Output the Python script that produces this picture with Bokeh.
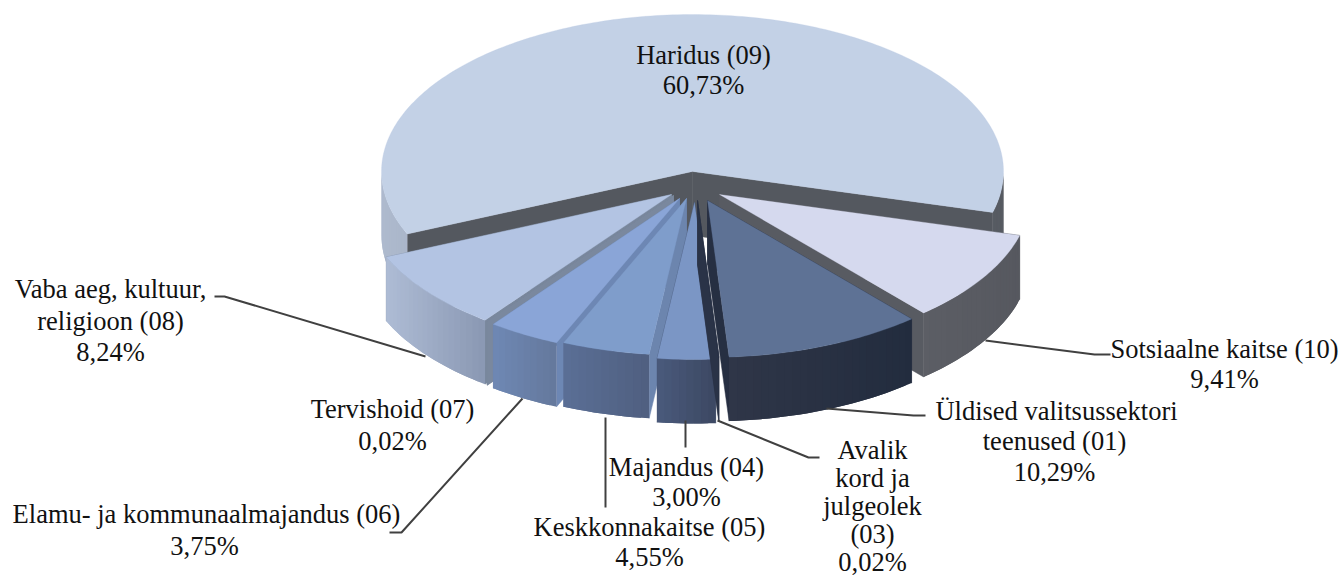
from math import cos, sin, radians
from bokeh.plotting import figure
from bokeh.models import Range1d
from bokeh.core.properties import value
from bokeh.embed import file_html
from bokeh.resources import INLINE

# data (clockwise, starting at the right edge of the large slice's neighbour)
categories = ["Sotsiaalne kaitse (10)", "Üldised valitsussektori teenused (01)",
              "Avalik kord ja julgeolek (03)", "Majandus (04)", "Keskkonnakaitse (05)",
              "Elamu- ja kommunaalmajandus (06)", "Tervishoid (07)",
              "Vaba aeg, kultuur, religioon (08)", "Haridus (09)"]
shares = [9.41, 10.29, 0.02, 3.00, 4.55, 3.75, 0.02, 8.24, 60.73]

# layout
START = 15.1
RX, RY, DEPTH = 311, 157, 64
apex = [(719, 194), (707, 200), (697, 200), (694, 202), (686, 198),
        (679, 198), (673, 195), (671, 194), (692, 171)]
top_col = ["#D5D9EE", "#5E7295", "#2A3347", "#7B96C5", "#7F9DCB",
           "#8AA5D7", "#7A889E", "#B3C4E3", "#C3D1E6"]
face_col = ["#585B62", "#262F42", "#2A3347", "#3E4C69", "#6C85AE",
            "#6D87B4", "#7A889E", "#7A889E", "#54585F"]
wall_l = ["#5C5E65", "#2F3648", "#2A3347", "#4A5A7C", "#5A6F96",
          "#6F88B4", "#7A889E", "#AEBCD5", "#AEBACE"]
wall_r = ["#56585F", "#222C3E", "#2A3347", "#3C4862", "#4F5F80",
          "#64789C", "#7A889E", "#8A98B3", "#565A61"]
draw_order = [8, 0, 7, 6, 5, 4, 3, 2, 1]

label_lines = [
    ("Haridus (09)", 703, 54), ("60,73%", 703, 84),
    ("Sotsiaalne kaitse (10)", 1224, 348), ("9,41%", 1224, 378),
    ("Üldised valitsussektori", 1056, 410), ("teenused (01)", 1054, 440), ("10,29%", 1054, 471),
    ("Avalik", 872, 449), ("kord ja", 872, 477), ("julgeolek", 872, 505), ("(03)", 872, 533), ("0,02%", 872, 561),
    ("Majandus (04)", 686, 466), ("3,00%", 686, 496),
    ("Keskkonnakaitse (05)", 649, 526), ("4,55%", 649, 556),
    ("Tervishoid (07)", 392, 408), ("0,02%", 392, 440),
    ("Elamu- ja kommunaalmajandus (06)", 206, 513), ("3,75%", 204, 545),
    ("Vaba aeg, kultuur,", 110, 288), ("religioon (08)", 110, 320), ("8,24%", 110, 351),
]
leaders = [
    ([214, 224, 425], [296, 296, 356]),
    ([389, 401, 522], [532, 532, 398]),
    ([605, 605], [417, 507]),
    ([685, 685], [420, 447]),
    ([717, 808, 819], [420, 457, 457]),
    ([826, 913, 925], [408, 415, 415]),
    ([985, 1094, 1110], [340, 354, 354]),
]

p = figure(width=1342, height=577, x_range=Range1d(0, 1342), y_range=Range1d(577, 0),
           output_backend="svg", toolbar_location=None, min_border=0,
           x_axis_location=None, y_axis_location=None, outline_line_color=None,
           background_fill_color="white", border_fill_color="white")
p.grid.visible = False


def mix(c1, c2, f):
    a = [int(c1[i:i + 2], 16) for i in (1, 3, 5)]
    b = [int(c2[i:i + 2], 16) for i in (1, 3, 5)]
    return "#%02X%02X%02X" % tuple(round(x + (y - x) * f) for x, y in zip(a, b))


def rim(c, t):
    return c[0] + RX * cos(radians(t)), c[1] + RY * sin(radians(t))


def arc(a, b, n=None):
    n = n or max(2, int(abs(b - a)) + 2)
    return [a + (b - a) * i / (n - 1) for i in range(n)]


angles = [START]
for s in shares:
    angles.append(angles[-1] + s * 3.6)

for i in draw_order:
    a, b, c = angles[i], angles[i + 1], apex[i]
    # cut faces
    for t in (a, b):
        x, y = rim(c, t)
        p.patch([c[0], x, x, c[0]], [c[1], y, y + DEPTH, c[1] + DEPTH],
                fill_color=face_col[i], line_color=face_col[i], line_width=0.5)
    # outer wall, shaded from right to left across the visible part
    visible = []
    for lo, hi in ((a, b), (a - 360, b - 360)):
        l, h = max(lo, 0), min(hi, 180)
        if h > l:
            visible.append((l, h))
    xs_all = [rim(c, t)[0] for l, h in visible for t in (l, h)]
    xmin, xmax = min(xs_all), max(xs_all)
    for l, h in visible:
        ts = arc(l, h, max(2, int((h - l) / 1.5) + 2))
        for k in range(len(ts) - 1):
            # every strip runs on under the next one, so that no seams show
            t0, t1 = ts[k], ts[min(k + 2, len(ts) - 1)]
            sub = arc(t0, t1, 3)
            top = [rim(c, t) for t in sub]
            mid = 0.5 * (rim(c, ts[k])[0] + rim(c, ts[k + 1])[0])
            f = 1 - (mid - xmin) / max(xmax - xmin, 1)
            col = mix(wall_r[i], wall_l[i], f)
            xs = [q[0] for q in top] + [q[0] for q in reversed(top)]
            ys = [q[1] for q in top] + [q[1] + DEPTH for q in reversed(top)]
            p.patch(xs, ys, fill_color=col, line_color=None)
    # top surface
    pts = [rim(c, t) for t in arc(a, b)]
    p.patch([c[0]] + [q[0] for q in pts], [c[1]] + [q[1] for q in pts],
            fill_color=top_col[i], line_color=top_col[i], line_width=0.3)

for xs, ys in leaders:
    p.line(xs, ys, line_color="#404040", line_width=2)

p.text([l[1] for l in label_lines], [l[2] for l in label_lines], text=[l[0] for l in label_lines],
       text_font=value("Liberation Serif"), text_font_size="26.5px", text_color="#111111",
       text_align="center", text_baseline="middle")

open("out.html", "w").write(file_html(p, INLINE))
